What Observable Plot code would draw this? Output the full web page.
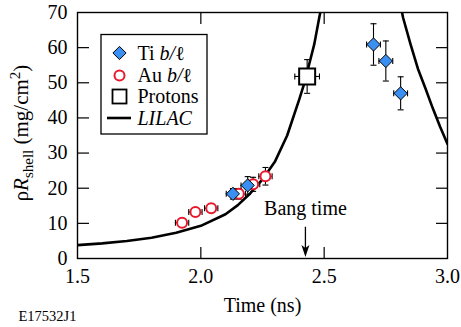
<!DOCTYPE html>
<html><head><meta charset="utf-8">
<script src="https://cdn.jsdelivr.net/npm/d3@7"></script>
<script src="https://cdn.jsdelivr.net/npm/@observablehq/plot@0.6"></script>
<style>
body{margin:0;background:#fff}
#wrap{position:relative;width:461px;height:327px;font-family:"Liberation Serif","Times New Roman",serif}
#wrap svg text{font-family:"Liberation Serif","Times New Roman",serif}
#legend{position:absolute;left:0;top:0}
</style>
</head><body><div id="wrap"></div>
<script>
// ---- ticks ----
const xTicks = [1.5, 2.0, 2.5, 3.0];
const yTicks = [0, 10, 20, 30, 40, 50, 60, 70];
const innerXTicks = [2.0, 2.5];
const innerYTicks = [10, 20, 30, 40, 50, 60];

// ---- LILAC simulation (two branches, clipped above 70) ----
const lilacRiseTime = [1.5, 1.6, 1.7, 1.8, 1.9, 2.0, 2.1, 2.15, 2.2, 2.25, 2.3, 2.35, 2.4, 2.42, 2.44, 2.46, 2.48, 2.49];
const lilacRiseRhoR = [3.8, 4.3, 5.0, 5.9, 7.3, 9.3, 12.6, 15.2, 18.5, 22.5, 27.5, 35, 45.5, 50, 55.5, 61, 68.5, 72];
const lilacFallTime = [2.81, 2.82, 2.85, 2.88, 2.91, 2.94, 2.97, 3.0];
const lilacFallRhoR = [72, 68.5, 61, 54, 48.5, 42.8, 37.5, 32.6];

// ---- measurements ----
const tiTime = [2.13, 2.19, 2.70, 2.75, 2.81];
const tiRhoR = [18.4, 20.8, 60.9, 56.2, 47.0];
const tiTimeErr = [0.027, 0.027, 0.028, 0.028, 0.028];
const tiRhoRErr = [1.5, 2.5, 5.9, 5.7, 4.7];

const auTime = [1.924, 1.978, 2.042, 2.154, 2.212, 2.262];
const auRhoR = [10.2, 13.2, 14.3, 18.4, 21.1, 23.4];
const auTimeErr = [0.027, 0.027, 0.027, 0.027, 0.027, 0.027];
const auRhoRErr = [1.2, 1.2, 1.2, 1.5, 2.0, 2.5];

const protonTime = [2.431];
const protonRhoR = [51.8];
const protonTimeErr = [0.05];
const protonRhoRErr = [4.8];

// ---- annotation ----
const bangLabel = "Bang time";
const bangLabelPos = [2.424, 14.3];
const bangArrowTime = 2.424;
const bangArrowFrom = 8.9;
const bangArrowTo = 0.4;

const labels = {x: "Time (ns)", code: "E17532J1"};

// ---- build tables ----
const lilac = [
  ...lilacRiseTime.map((t, i) => ({t, v: lilacRiseRhoR[i], s: "rise"})),
  ...lilacFallTime.map((t, i) => ({t, v: lilacFallRhoR[i], s: "fall"}))
];
const mk = (T, V, TE, VE, kind) => T.map((t, i) => ({t, v: V[i], te: TE[i], ve: VE[i], kind}));
const ti = mk(tiTime, tiRhoR, tiTimeErr, tiRhoRErr, "ti");
const au = mk(auTime, auRhoR, auTimeErr, auRhoRErr, "au");
const pr = mk(protonTime, protonRhoR, protonTimeErr, protonRhoRErr, "pr");
const all = [...au, ...ti, ...pr];

// ---- symbols ----
const capH = {draw(c){c.moveTo(-3,0);c.lineTo(3,0);}};
const capV = {draw(c){c.moveTo(0,-3);c.lineTo(0,3);}};
const diamondSym = {draw(c){const h=6.6;c.moveTo(0,-h);c.lineTo(h,0);c.lineTo(0,h);c.lineTo(-h,0);c.closePath();}};
const squareSym = {draw(c){const h=8;c.moveTo(-h,-h);c.lineTo(h,-h);c.lineTo(h,h);c.lineTo(-h,h);c.closePath();}};
const arrowHead = {draw(c){c.moveTo(0,0);c.lineTo(-4,-12);c.lineTo(0,-9);c.lineTo(4,-12);c.closePath();}};

const BLUE = "#3a8ff2", RED = "#e8192c";
const SERIF = '"Liberation Serif","Times New Roman",serif';

const plot = Plot.plot({
  width: 461, height: 327,
  marginLeft: 77, marginRight: 14, marginTop: 12, marginBottom: 69,
  style: {fontFamily: SERIF, fontSize: "20px", background: "white", color: "black"},
  x: {domain: [1.5, 3.0]},
  y: {domain: [0, 70]},
  marks: [
    Plot.line(lilac, {x: "t", y: "v", z: "s", stroke: "black", strokeWidth: 2.6, clip: true}),
    // error bars
    Plot.ruleX(all, {x: "t", y1: d => d.v - d.ve, y2: d => d.v + d.ve, stroke: "black", strokeWidth: 1.1}),
    Plot.ruleY(all, {y: "v", x1: d => d.t - d.te, x2: d => d.t + d.te, stroke: "black", strokeWidth: 1.1}),
    Plot.dot(all, {x: "t", y: d => d.v - d.ve, symbol: capH, stroke: "black", strokeWidth: 1.1, r: 3}),
    Plot.dot(all, {x: "t", y: d => d.v + d.ve, symbol: capH, stroke: "black", strokeWidth: 1.1, r: 3}),
    Plot.dot(all, {x: d => d.t - d.te, y: "v", symbol: capV, stroke: "black", strokeWidth: 1.1, r: 3}),
    Plot.dot(all, {x: d => d.t + d.te, y: "v", symbol: capV, stroke: "black", strokeWidth: 1.1, r: 3}),
    // markers
    Plot.dot(au, {x: "t", y: "v", r: 5, fill: "white", stroke: RED, strokeWidth: 2}),
    Plot.dot(ti, {x: "t", y: "v", symbol: diamondSym, r: 6, fill: BLUE, stroke: "black", strokeWidth: 1}),
    Plot.dot(pr, {x: "t", y: "v", symbol: squareSym, r: 8, fill: "white", stroke: "black", strokeWidth: 2}),
    // bang time annotation
    Plot.text([bangLabel], {x: bangLabelPos[0], y: bangLabelPos[1], text: d => d, fontSize: 20, fontFamily: SERIF}),
    Plot.ruleX([bangArrowTime], {x: d => d, y1: bangArrowFrom, y2: bangArrowTo + 1.5, stroke: "black", strokeWidth: 1.3}),
    Plot.dot([bangArrowTime], {x: d => d, y: bangArrowTo, symbol: arrowHead, r: 5, fill: "black", stroke: "none"}),
    // axes
    Plot.axisX(xTicks, {tickSize: 0, tickPadding: 10.5, tickFormat: d3.format(".1f"), label: null, fontSize: 20, fontFamily: SERIF}),
    Plot.axisY(yTicks, {tickSize: 0, tickPadding: 10, label: null, fontSize: 20, fontFamily: SERIF}),
    Plot.axisX(innerXTicks, {anchor: "bottom", tickSize: -11, tickFormat: () => "", label: null, strokeWidth: 1.2}),
    Plot.axisX(innerXTicks, {anchor: "top", tickSize: -11, tickFormat: () => "", label: null, strokeWidth: 1.2}),
    Plot.axisY(innerYTicks, {anchor: "left", tickSize: -12, tickFormat: () => "", label: null, strokeWidth: 1.2}),
    Plot.axisY(innerYTicks, {anchor: "right", tickSize: -12, tickFormat: () => "", label: null, strokeWidth: 1.2}),
    Plot.frame({stroke: "black", strokeWidth: 1.4}),
    // titles
    Plot.text([labels.x], {frameAnchor: "bottom", dy: 47.3, lineAnchor: "middle", text: d => d, fontSize: 20, fontFamily: SERIF}),
    Plot.text([labels.code], {frameAnchor: "bottom-left", dx: -59, dy: 57.5, textAnchor: "start", lineAnchor: "middle", text: d => d, fontSize: 14.5, fontFamily: SERIF}),
    Plot.text(["YLABEL"], {frameAnchor: "left", dx: -56, dy: -2.5, rotate: -90, textAnchor: "middle", lineAnchor: "middle", text: d => d, fontSize: 21, fontFamily: SERIF})
  ]
});

const wrap = document.getElementById("wrap");
wrap.appendChild(plot);

// rich y-axis label
d3.select(plot).selectAll("text").filter(function() { return this.textContent === "YLABEL"; }).each(function() {
  const yl = d3.select(this);
  yl.attr("text-anchor", "middle");
  yl.text(null);
  yl.append("tspan").text("ρ");
  yl.append("tspan").attr("font-style", "italic").text("R");
  yl.append("tspan").attr("font-size", 15).attr("dy", 5).text("shell");
  yl.append("tspan").attr("dy", -5).text(" (mg/cm");
  yl.append("tspan").attr("font-size", 15).attr("dy", -8).text("2");
  yl.append("tspan").attr("dy", 8).text(")");
});

// legend overlay
const legendItems = [
  {kind: "ti", parts: [["Ti ", false], ["b/", true], ["ℓ", false]]},
  {kind: "au", parts: [["Au ", false], ["b/", true], ["ℓ", false]]},
  {kind: "pr", parts: [["Protons", false]]},
  {kind: "lilac", parts: [["LILAC", true]]}
];
const lg = d3.select(wrap).append("svg").attr("id", "legend").attr("width", 461).attr("height", 327)
  .style("font-family", SERIF).style("font-size", "20px");
lg.append("rect").attr("x", 101).attr("y", 34.5).attr("width", 106).attr("height", 99.5)
  .attr("fill", "white").attr("stroke", "black").attr("stroke-width", 1.3);
const rowY = [53, 75.5, 96.5, 118];
legendItems.forEach((it, i) => {
  const cy = rowY[i], cx = 119.5;
  if (it.kind === "ti") lg.append("path").attr("d", `M${cx},${cy-6.6}L${cx+6.6},${cy}L${cx},${cy+6.6}L${cx-6.6},${cy}Z`).attr("fill", BLUE).attr("stroke", "black");
  if (it.kind === "au") lg.append("circle").attr("cx", cx).attr("cy", cy).attr("r", 5).attr("fill", "white").attr("stroke", RED).attr("stroke-width", 2);
  if (it.kind === "pr") lg.append("rect").attr("x", cx - 7).attr("y", cy - 7).attr("width", 14).attr("height", 14).attr("fill", "white").attr("stroke", "black").attr("stroke-width", 1.8);
  if (it.kind === "lilac") lg.append("line").attr("x1", 107).attr("x2", 131).attr("y1", cy).attr("y2", cy).attr("stroke", "black").attr("stroke-width", 2.6);
  const t = lg.append("text").attr("x", 137.5).attr("y", cy + 6.5);
  it.parts.forEach(([s, ital]) => t.append("tspan").attr("font-style", ital ? "italic" : null).text(s));
});
</script>
</body></html>
